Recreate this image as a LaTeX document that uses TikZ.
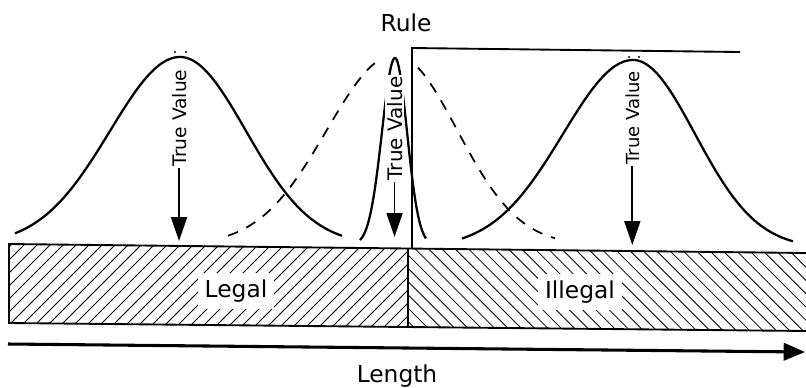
\documentclass[tikz,border=0pt]{standalone}
\usepackage{fontspec}
\setmainfont{DejaVu Sans}
\usetikzlibrary{arrows.meta}
\begin{document}
\begin{tikzpicture}[x=0.75pt,y=-0.75pt,
  curve/.style={line width=1.7pt, line join=round},
  dashcurve/.style={line width=1.3pt, dash pattern=on 8pt off 7pt},
  hatch/.style={line width=0.6pt},
  outline/.style={line width=1.4pt},
  lbl/.style={font=\fontsize{17.5}{20}\selectfont, inner sep=0pt},
  boxlbl/.style={font=\fontsize{17.5}{20}\selectfont, fill=white, inner sep=5pt},
  tvlbl/.style={rotate=90, inner sep=1pt, anchor=base west},
  tvarrow/.style={line width=1.4pt, -{Triangle[length=18pt,width=12pt]}},
  axisarrow/.style={line width=2.3pt, -{Triangle[length=16pt,width=13pt]}},
]
\useasboundingbox (0,0) rectangle (806,387);

% bar corners
\coordinate (tl) at (9,244);
\coordinate (bl) at (9,323);
\coordinate (tm) at (408,248.5);
\coordinate (bm) at (408,327.5);
\coordinate (tr) at (806,253);
\coordinate (br) at (806,331);

% hatching
\begin{scope}
  \clip (tl) -- (tm) -- (bm) -- (bl) -- cycle;
  \foreach \a in {-110,-97,...,420} \draw[hatch] (\a,340) -- ({\a+100},240);
\end{scope}
\begin{scope}
  \clip (tm) -- (tr) -- (br) -- (bm) -- cycle;
  \foreach \a in {300,313.3,...,820} \draw[hatch] (\a,240) -- ({\a+100},340);
\end{scope}
\draw[outline] (tr) -- (tl) -- (bl) -- (br);
\draw[outline] (tm) -- (bm);

\node[boxlbl, anchor=base] (legal) at (236,297) {Legal};
\node[boxlbl, anchor=base] (illegal) at (580,298) {Illegal};

% axis
\coordinate (ax0) at (8,344);
\coordinate (ax1) at (805,352);
\draw[axisarrow] (ax0) -- (ax1);
\node[lbl, anchor=base] (length) at (397,382) {Length};

% rule
\node[lbl, anchor=base] (rule) at (406,31) {Rule};
\coordinate (r0) at (412,248.5);
\coordinate (r1) at (412,48);
\coordinate (r2) at (740,52);
\draw[outline] (r0) -- (r1) -- (r2);

% left bell
\draw[curve] plot[domain=15:180,samples=60] (\x,{245-188*exp(-0.5*((\x-180)/70)*((\x-180)/70))})
  -- plot[domain=180:342,samples=60] (\x,{245-188*exp(-0.5*((\x-180)/66)*((\x-180)/66))});
% right bell
\draw[curve] plot[domain=462:633,samples=60] (\x,{248-188*exp(-0.5*((\x-633)/70)*((\x-633)/70))})
  -- plot[domain=633:793,samples=60] (\x,{248-188*exp(-0.5*((\x-633)/62)*((\x-633)/62))});
% dashed bell
\draw[dashcurve] plot[domain=228:380,samples=60] (\x,{245-190*exp(-0.5*((\x-395)/68)*((\x-395)/68))});
\draw[dashcurve] plot[domain=418:555,samples=60] (\x,{245-190*exp(-0.5*((\x-395)/62)*((\x-395)/62))});
% narrow spike
\draw[curve] plot[domain=360:395,samples=40] (\x,{245-187*exp(-0.5*((\x-395)/13)*((\x-395)/13))})
  -- plot[domain=395:426,samples=40] (\x,{245-187*exp(-0.5*((\x-395)/12)*((\x-395)/12))});

% peak dots
\fill (175,52) circle (0.8pt);
\fill (186,52) circle (0.8pt);
\fill (629,57) circle (0.8pt);
\fill (639,57) circle (0.8pt);

% True Value labels and arrows
\node[tvlbl, font=\fontsize{14}{16}\selectfont] (tv1) at (186,168) {True Value};
\node[tvlbl, font=\fontsize{15}{18}\selectfont, fill=white] (tv2) at (402,182) {True Value};
\node[tvlbl, font=\fontsize{13.5}{16}\selectfont] (tv3) at (639,166) {True Value};
\coordinate (tip1) at (179,241);
\coordinate (tip2) at (393,237);
\coordinate (tip3) at (632,245);
\draw[tvarrow] (tv1.west) -- (tv1.west |- tip1);
\draw[tvarrow] (tv2.west) -- (tv2.west |- tip2);
\draw[tvarrow] (tv3.west) -- (tv3.west |- tip3);
\end{tikzpicture}
\end{document}
